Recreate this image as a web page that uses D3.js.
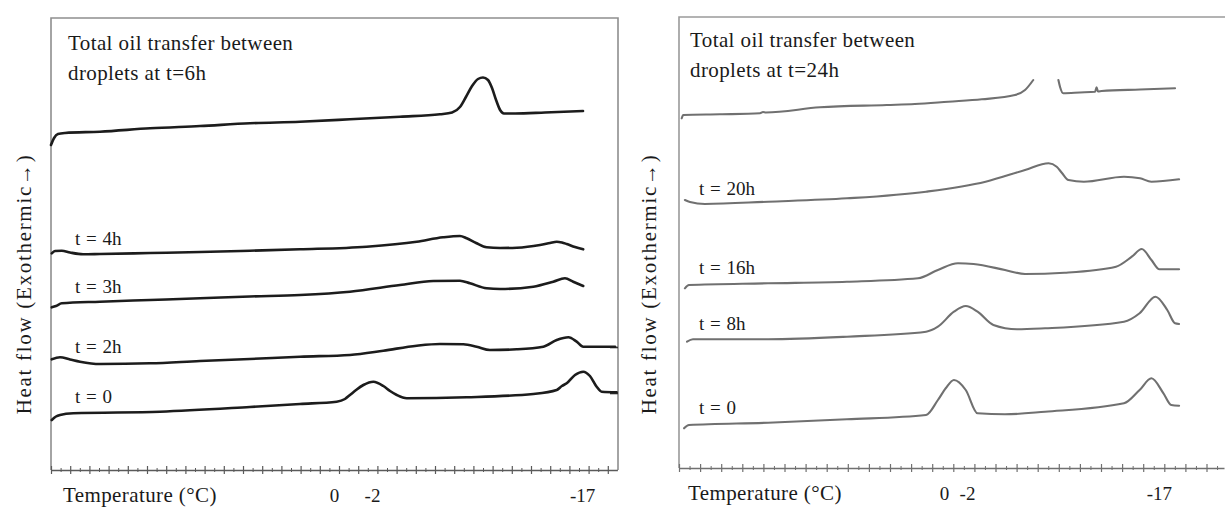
<!DOCTYPE html>
<html>
<head>
<meta charset="utf-8">
<script src="https://cdn.jsdelivr.net/npm/d3@7"></script>
<style>
    body { margin: 0; background: #fff; }
    svg { display: block; font-family: "Liberation Serif", "Times New Roman", serif; }
    .panel-title { font-size: 21px; letter-spacing: 0.4px; fill: #1a1a1a; }
    .axis-title { font-size: 21px; letter-spacing: 0.4px; fill: #1a1a1a; }
    .y-title { font-size: 21px; letter-spacing: 1.7px; fill: #1a1a1a; }
    .curve-label { font-size: 19px; word-spacing: 1px; fill: #1a1a1a; }
    .temp-labels text { font-size: 19px; fill: #1a1a1a; font-family: "Liberation Serif", serif; }
</style>
</head>
<body>
<svg id="chart" width="1225" height="508"></svg>
<script>

// x = scan position (axis tick units), y = heat flow (arbitrary units)

// ----- left panel: up to t = 6h -----
const left6h = [[0,32.5],[0.16,33.2],[0.36,33.6],[0.73,33.7],[2.55,33.83],[5.16,34.17],[7.76,34.4],[10.36,34.67],
    [12.97,34.83],[15.57,35.07],[18.18,35.33],[20.26,35.57],[20.89,35.75],[21.3,36.3],[21.61,37.3],[21.93,38.4],
    [22.24,39.1],[22.5,39.25],[22.76,39.0],[22.97,38.2],[23.18,37.0],[23.39,36.0],[23.59,35.65],[24.17,35.65],
    [25.73,35.75],[27.71,35.9]];
const left4h = [[0.04,21.67],[0.21,21.9],[0.56,21.93],[0.99,21.75],[1.67,21.57],[2.55,21.6],[5.16,21.7],[7.76,21.8],
    [10.36,21.93],[12.97,22.07],[16.44,22.33],[19.05,22.83],[20.42,23.27],[21.3,23.4],[21.65,23.17],[22.14,22.7],
    [22.69,22.27],[23.39,22.2],[24.26,22.23],[25.47,22.5],[25.99,22.7],[26.34,22.83],[26.61,22.75],[26.86,22.6],
    [27.29,22.3],[27.72,22.07]];
const left3h = [[0.04,16.27],[0.26,16.4],[0.56,16.67],[2.55,16.83],[5.16,17.0],[7.76,17.17],[10.36,17.35],[12.97,17.5],
    [15.57,17.83],[18.18,18.5],[19.91,18.9],[21.3,18.93],[21.82,18.67],[22.69,18.17],[23.39,18.1],[25.12,18.33],
    [26.16,18.83],[26.77,19.17],[27.2,18.83],[27.72,18.4]];
const left2h = [[0.04,11.07],[0.47,11.27],[0.99,11.05],[1.51,10.83],[2.55,10.6],[5.16,10.67],[7.76,10.9],[10.36,11.1],
    [12.97,11.33],[15.57,11.5],[17.31,11.93],[19.05,12.43],[20.26,12.6],[21.48,12.57],[22.17,12.33],[22.86,12.0],
    [24.26,12.07],[25.64,12.33],[26.34,13.0],[26.95,13.27],[27.38,12.83],[27.72,12.33],[28.59,12.33],[29.38,12.33]];
const left0h = [[0.04,5.0],[0.26,5.35],[0.47,5.5],[1.16,5.67],[5.68,5.83],[10.36,6.3],[12.97,6.6],[14.88,6.83],
    [15.31,7.1],[15.57,7.5],[15.89,8.0],[16.27,8.5],[16.79,8.83],[17.31,8.4],[17.66,7.9],[18.01,7.5],[18.53,7.17],
    [21.65,7.27],[25.12,7.6],[26.34,8.0],[26.61,8.4],[26.86,8.67],[27.29,9.5],[27.72,9.83],[28.07,9.4],[28.42,8.33],
    [28.68,7.83],[29.46,7.77]];

const leftSeries = [left6h, left4h, left3h, left2h, left0h];
const leftNames = [null, "t = 4h", "t = 3h", "t = 2h", "t = 0"];
const leftTitle = ["Total oil transfer between", "droplets at t=6h"];
const leftTickPos = [14.74, 16.72, 27.66];
const leftTickText = ["0", "-2", "-17"];
const leftSideMarks = [12.3, 7.7];

// ----- right panel: up to t = 24h -----
const right24h = [[0.13,34.97],[0.2,35.3],[1.94,35.37],[3.84,35.47],[3.98,35.6],[4.12,35.55],[6.68,36.07],[9.84,36.3],
    [11.18,36.4],[12.76,36.63],[14.35,36.87],[15.92,37.3],[16.4,37.8],[16.79,38.8],[17.4,null],[17.98,38.8],
    [18.06,38.1],[18.21,37.47],[19.0,37.55],[19.72,37.63],[19.79,38.07],[19.86,37.65],[20.03,37.7],[21.85,37.85],
    [23.51,37.97]];
const right20h = [[0.28,26.8],[0.52,26.6],[1.23,26.4],[4.22,26.63],[7.96,26.97],[11.71,27.63],[14.53,28.63],[16.4,29.8],
    [17.52,30.47],[17.9,30.13],[18.15,29.5],[18.46,28.8],[19.19,28.63],[21.09,29.13],[21.85,28.97],[22.39,28.63],
    [23.7,28.87]];
const right16h = [[0.28,17.97],[0.47,18.3],[4.22,18.47],[7.96,18.63],[11.33,18.97],[12.27,19.8],[13.22,20.47],[13.96,20.4],
    [15.45,19.8],[16.4,19.4],[18.27,19.53],[20.71,20.13],[21.46,21.13],[21.93,21.9],[22.39,20.8],[22.77,19.87],
    [23.7,19.87]];
const right8h = [[0.38,12.63],[0.66,12.87],[4.22,12.87],[7.96,13.13],[11.71,13.63],[12.27,14.13],[13.03,15.63],[13.59,16.2],
    [14.15,15.63],[14.9,14.3],[16.02,13.87],[17.35,13.97],[21.09,14.63],[21.83,15.47],[22.58,17.13],[23.14,15.8],
    [23.51,14.47],[23.7,14.4]];
const right0h = [[0.24,3.97],[0.47,4.3],[4.22,4.53],[7.96,4.87],[11.71,5.3],[12.27,6.8],[12.65,8.0],[13.03,8.8],
    [13.59,7.8],[14.15,5.47],[15.45,5.37],[17.35,5.63],[21.09,6.47],[21.83,7.8],[22.39,8.97],[22.96,7.47],
    [23.33,6.3],[23.7,6.23]];

const rightSeries = [right24h, right20h, right16h, right8h, right0h];
const rightNames = [null, "t = 20h", "t = 16h", "t = 8h", "t = 0"];
const rightTitle = ["Total oil transfer between", "droplets at t=24h"];
const rightTickPos = [12.56, 13.65, 22.74];
const rightTickText = ["0", "-2", "-17"];


class DscPanel {

    constructor(svg, cfg) {
        this.svg = svg;
        this.cfg = cfg;
        this.initVis();
    }

    initVis() {
        let vis = this;
        let c = vis.cfg;

        vis.g = vis.svg.append("g");

        vis.x = d3.scaleLinear()
            .domain([0, c.xMax])
            .range([c.left, c.left + c.xMax * c.step]);

        vis.y = d3.scaleLinear()
            .domain([0, c.yMax])
            .range([c.bottom, c.top]);

        // frame (left, top, optional right side)
        let fr = `M${c.left},${c.bottom}L${c.left},${c.top}L${c.frameRight},${c.top}`;
        if (c.closed) fr += `L${c.frameRight},${c.bottom}`;
        vis.g.append("path")
            .attr("d", fr)
            .attr("fill", "none")
            .attr("stroke", c.frameColor)
            .attr("stroke-width", 1.6);

        // bottom axis: major + minor crossing ticks
        vis.g.append("g")
            .attr("transform", `translate(0,${c.bottom})`)
            .call(d3.axisBottom(vis.x).tickValues(d3.range(0, c.xMax, 1)).tickSize(4).tickSizeOuter(0).tickFormat(""))
            .call(g => g.select(".domain").attr("stroke", c.axisColor).attr("stroke-width", 1.5))
            .call(g => g.selectAll(".tick line").attr("y1", -4).attr("y2", 4).attr("stroke", c.axisColor).attr("stroke-width", 1.2));

        vis.g.append("g")
            .attr("transform", `translate(0,${c.bottom})`)
            .call(d3.axisBottom(vis.x).tickValues(d3.range(0.5, c.xMax, 1)).tickSize(2).tickSizeOuter(0).tickFormat(""))
            .call(g => g.select(".domain").remove())
            .call(g => g.selectAll(".tick line").attr("y1", -2).attr("stroke", c.axisColor));

        if (c.sideMarks) {
            vis.g.append("g")
                .attr("transform", `translate(${c.frameRight},0)`)
                .call(d3.axisLeft(vis.y).tickValues(c.sideMarks).tickSize(8).tickFormat(""))
                .call(g => g.select(".domain").remove())
                .call(g => g.selectAll(".tick line").attr("stroke", "#333").attr("stroke-width", 1.6));
        }

        // temperature labels
        vis.g.append("g")
            .attr("class", "temp-labels")
            .attr("transform", `translate(0,${c.bottom + 32})`)
            .call(d3.axisBottom(vis.x).tickValues(c.tickPos).tickSize(0).tickFormat((d, i) => c.tickText[i]))
            .call(g => g.select(".domain").remove())
            .call(g => g.selectAll("text").attr("y", 0).attr("dy", 0));

        vis.g.append("text")
            .attr("class", "axis-title")
            .attr("x", c.left + c.xTitleDx)
            .attr("y", c.bottom + 32)
            .text("Temperature (°C)");

        vis.g.append("text")
            .attr("class", "y-title")
            .attr("text-anchor", "middle")
            .attr("transform", `translate(${c.yTitleX},${c.yTitleY}) rotate(-90)`)
            .text("Heat flow (Exothermic\u2192)");

        // title
        vis.g.selectAll(".panel-title").data(c.title).enter()
            .append("text")
            .attr("class", "panel-title")
            .attr("x", c.left + c.titleDx)
            .attr("y", (d, i) => c.top + c.titleDy + i * 30)
            .text(d => d);

        vis.line = d3.line()
            .defined(d => d[1] !== null)
            .x(d => vis.x(d[0]))
            .y(d => vis.y(d[1]))
            .curve(d3.curveMonotoneX);

        vis.updateVis();
    }

    updateVis() {
        let vis = this;
        let c = vis.cfg;

        vis.g.selectAll(".curve").data(c.series).enter()
            .append("path")
            .attr("class", "curve")
            .attr("d", vis.line)
            .attr("fill", "none")
            .attr("stroke", c.curveColor)
            .attr("stroke-width", c.curveWidth)
            .attr("stroke-linejoin", "round")
            .attr("stroke-linecap", "round");

        // labels sit just above each trace's start
        let bis = d3.bisector(d => d[0]).left;
        c.series.forEach((s, i) => {
            if (!c.names[i]) return;
            let j = Math.min(bis(s, c.labelX), s.length - 1);
            vis.g.append("text")
                .attr("class", "curve-label")
                .attr("x", vis.x(c.labelX))
                .attr("y", vis.y(s[j][1]) - 9)
                .text(c.names[i]);
        });
    }
}

const svg = d3.select("#chart");

new DscPanel(svg, {
    series: leftSeries, names: leftNames, title: leftTitle,
    tickPos: leftTickPos, tickText: leftTickText, sideMarks: leftSideMarks,
    left: 51, step: 19.2, xMax: 29.5, frameRight: 618, closed: true,
    top: 18, bottom: 470, yMax: 45.2,
    frameColor: "#8e8e8e", axisColor: "#5a5a5a",
    curveColor: "#1c1c1c", curveWidth: 2.6,
    labelX: 1.25, titleDx: 17, titleDy: 32, xTitleDx: 12,
    yTitleX: 31, yTitleY: 284
});

new DscPanel(svg, {
    series: rightSeries, names: rightNames, title: rightTitle,
    tickPos: rightTickPos, tickText: rightTickText, sideMarks: null,
    left: 679, step: 21.1, xMax: 25.83, frameRight: 1225, closed: false,
    top: 17, bottom: 468, yMax: 45.1,
    frameColor: "#9a9a9a", axisColor: "#707070",
    curveColor: "#707070", curveWidth: 2.1,
    labelX: 0.95, titleDx: 11, titleDy: 30, xTitleDx: 9,
    yTitleX: 656, yTitleY: 284
});

</script>
</body>
</html>
